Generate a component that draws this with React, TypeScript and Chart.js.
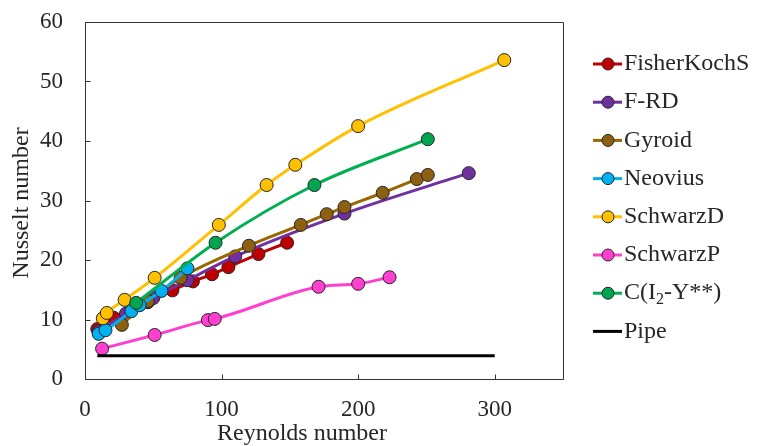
import React, { useEffect, useRef } from "react";
import { Chart, registerables } from "chart.js";

Chart.register(...registerables);

// ---- data ----
const fisherRe = [9, 21, 46, 64, 79, 93, 105, 127, 148];
const fisherNu = [8.4, 10.3, 12.9, 14.9, 16.4, 17.6, 18.8, 21.0, 22.9];
const frdRe = [10, 30, 50, 75, 110, 190, 281];
const frdNu = [8.0, 11.0, 13.6, 16.6, 20.6, 27.8, 34.6];
const gyroidRe = [27, 46, 70, 120, 158, 177, 190, 218, 243, 251];
const gyroidNu = [9.1, 13.1, 17.0, 22.4, 25.9, 27.7, 28.9, 31.3, 33.6, 34.3];
const neoviusRe = [10, 15, 34, 40, 56, 75];
const neoviusNu = [7.6, 8.2, 11.4, 12.4, 14.8, 18.6];
const schwarzDRe = [13, 16, 29, 51, 98, 133, 154, 200, 307];
const schwarzDNu = [10.2, 11.1, 13.3, 17.0, 25.9, 32.6, 36.0, 42.5, 53.6];
const schwarzPRe = [12.5, 51, 90, 95, 171, 200, 223];
const schwarzPNu = [5.1, 7.4, 9.9, 10.1, 15.5, 16.0, 17.1];
const cI2Re = [37.5, 95.6, 168, 251];
const cI2Nu = [12.8, 22.9, 32.6, 40.3];
const pipeRe = [9, 300];
const pipeNu = [3.9, 3.9];

const xTicks = [0, 100, 200, 300];
const yMin = 0;
const yMax = 60;
const yStep = 10;
const xMin = 0;
const xMax = 350;

const seriesNames = ["FisherKochS", "F-RD", "Gyroid", "Neovius", "SchwarzD", "SchwarzP", "C(I2-Y**)", "Pipe"];
const lineColors = ["#C00000", "#7030A0", "#996600", "#00B0F0", "#FFC000", "#FF3FCF", "#00B050", "#000000"];
const pointColors = ["#C00000", "#7030A0", "#8C6010", "#00B0F0", "#FFC000", "#FF3FCF", "#00A550", "#000000"];

const FONT = "'Liberation Serif', 'Times New Roman', serif";
const FRAME = "#333333";

function zip(xs: number[], ys: number[]) {
  return xs.map((x, i) => ({ x, y: ys[i] }));
}

const framePlugin = {
  id: "frame",
  afterDraw(chart: any) {
    const { ctx, chartArea: a, scales } = chart;
    ctx.save();
    ctx.strokeStyle = FRAME;
    ctx.lineWidth = 1;
    ctx.beginPath();
    const L = Math.round(a.left) + 0.5;
    const R = Math.round(a.right) + 0.5;
    const T = Math.round(a.top) + 0.5;
    const B = Math.round(a.bottom) + 0.5;
    ctx.moveTo(L, T);
    ctx.lineTo(R, T);
    ctx.lineTo(R, B);
    ctx.lineTo(L, B);
    ctx.closePath();
    ctx.stroke();
    // inward tick marks
    ctx.beginPath();
    const y = scales.y;
    for (let v = yMin; v <= yMax; v += yStep) {
      const py = Math.round(y.getPixelForValue(v)) + 0.5;
      ctx.moveTo(L, py);
      ctx.lineTo(L + 5, py);
    }
    const x = scales.x;
    for (const v of xTicks) {
      const px = Math.round(x.getPixelForValue(v)) + 0.5;
      ctx.moveTo(px, B);
      ctx.lineTo(px, B - 5);
    }
    ctx.stroke();

    ctx.fillStyle = "#262626";
    ctx.font = `24px ${FONT}`;
    // axis titles
    ctx.textAlign = "center";
    ctx.textBaseline = "middle";
    ctx.fillText("Reynolds number", 302, 434);
    ctx.save();
    ctx.translate(22, 203);
    ctx.rotate(-Math.PI / 2);
    ctx.fillText("Nusselt number", 0, 0);
    ctx.restore();

    // legend
    const x0 = 593;
    const x1 = 622;
    const cx = 608;
    const y0 = 64;
    const dy = 38.2;
    chart.data.datasets.forEach((ds: any, i: number) => {
      const cy = y0 + i * dy;
      ctx.strokeStyle = ds.borderColor;
      ctx.lineWidth = 3;
      ctx.beginPath();
      ctx.moveTo(x0, cy);
      ctx.lineTo(x1, cy);
      ctx.stroke();
      if (ds.pointRadius > 0) {
        ctx.beginPath();
        ctx.arc(cx, cy, 6, 0, Math.PI * 2);
        ctx.fillStyle = ds.pointBackgroundColor;
        ctx.fill();
        ctx.lineWidth = 1;
        ctx.strokeStyle = "#262626";
        ctx.stroke();
      }
      ctx.fillStyle = "#262626";
      ctx.textAlign = "left";
      ctx.textBaseline = "middle";
      ctx.font = `24px ${FONT}`;
      const label: string = ds.label;
      if (label === "C(I2-Y**)") {
        let tx = x1 + 2;
        ctx.fillText("C(I", tx, cy);
        tx += ctx.measureText("C(I").width;
        ctx.font = `16px ${FONT}`;
        ctx.fillText("2", tx, cy + 7);
        tx += ctx.measureText("2").width;
        ctx.font = `24px ${FONT}`;
        ctx.fillText("-Y**)", tx, cy);
      } else {
        ctx.fillText(label, x1 + 2, cy);
      }
    });
    ctx.restore();
  },
};

export default function App() {
  const ref = useRef<HTMLCanvasElement | null>(null);
  useEffect(() => {
    if (!ref.current) return;
    const xsList = [fisherRe, frdRe, gyroidRe, neoviusRe, schwarzDRe, schwarzPRe, cI2Re, pipeRe];
    const ysList = [fisherNu, frdNu, gyroidNu, neoviusNu, schwarzDNu, schwarzPNu, cI2Nu, pipeNu];
    const datasets = seriesNames.map((name, i) => {
      const isPipe = name === "Pipe";
      return {
        label: name,
        data: zip(xsList[i], ysList[i]),
        borderColor: lineColors[i],
        backgroundColor: pointColors[i],
        pointBackgroundColor: pointColors[i],
        pointBorderColor: "#262626",
        pointBorderWidth: 1,
        pointRadius: isPipe ? 0 : 6.5,
        borderWidth: 3,
        tension: 0.4,
        cubicInterpolationMode: "monotone",
        order: seriesNames.length - i,
        fill: false,
      };
    });
    const chart = new Chart(ref.current, {
      type: "line",
      data: { datasets } as any,
      options: {
        animation: false,
        responsive: false,
        maintainAspectRatio: false,
        layout: { padding: { left: 18, top: 22, right: 194, bottom: 0 } },
        plugins: { legend: { display: false }, tooltip: { enabled: false } },
        scales: {
          x: {
            type: "linear",
            min: xMin,
            max: xMax,
            grid: { display: false, drawTicks: false },
            border: { display: false },
            afterBuildTicks: (scale: any) => {
              scale.ticks = xTicks.map((v) => ({ value: v }));
            },
            afterFit: (scale: any) => {
              scale.height = 67;
            },
            ticks: {
              font: { family: FONT, size: 23 },
              color: "#262626",
              padding: 17,
              maxRotation: 0,
              autoSkip: false,
            },
          },
          y: {
            type: "linear",
            min: yMin,
            max: yMax,
            grid: { display: false, drawTicks: true, tickLength: 22 },
            border: { display: false },
            afterFit: (scale: any) => {
              scale.width = 67;
            },
            ticks: {
              stepSize: yStep,
              font: { family: FONT, size: 23 },
              color: "#262626",
              padding: 0,
            },
          },
        },
      } as any,
      plugins: [framePlugin],
    });
    return () => chart.destroy();
  }, []);
  return (
    <div style={{ position: "fixed", left: 0, top: 0, width: 757, height: 446, background: "#fff" }}>
      <canvas ref={ref} width={757} height={446} style={{ width: 757, height: 446, display: "block" }} />
    </div>
  );
}
